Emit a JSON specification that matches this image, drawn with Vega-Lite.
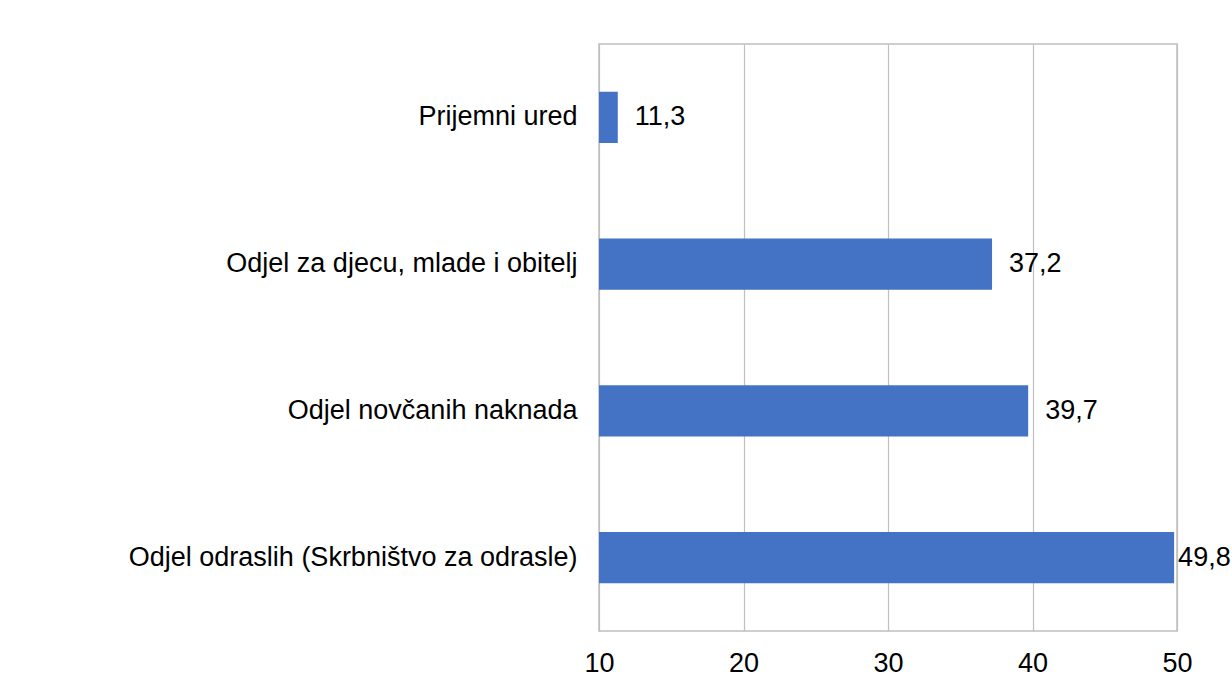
{
  "$schema": "https://vega.github.io/schema/vega-lite/v6.json",
  "width": 578,
  "height": 587,
  "autosize": "none",
  "padding": {"left": 599, "top": 44, "right": 55, "bottom": 69},
  "background": "white",
  "config": {
    "view": {"stroke": "#BFBFBF", "strokeWidth": 1.5},
    "font": "Liberation Sans",
    "locale": {"number": {"decimal": ",", "thousands": ".", "grouping": [3], "currency": ["", " €"]}}
  },
  "data": {
    "values": [
      {"category": "Prijemni ured", "value": 11.3},
      {"category": "Odjel za djecu, mlade i obitelj", "value": 37.2},
      {"category": "Odjel novčanih naknada", "value": 39.7},
      {"category": "Odjel odraslih (Skrbništvo za odrasle)", "value": 49.8}
    ]
  },
  "encoding": {
    "y": {
      "field": "category",
      "type": "nominal",
      "sort": null,
      "scale": {"paddingInner": 0.65, "paddingOuter": 0.325},
      "axis": {
        "title": null,
        "domain": false,
        "ticks": false,
        "labelFontSize": 27,
        "labelColor": "#000000",
        "labelPadding": 22,
        "labelLimit": 0
      }
    }
  },
  "layer": [
    {
      "mark": {"type": "bar", "color": "#4472C4"},
      "encoding": {
        "x": {
          "field": "value",
          "type": "quantitative",
          "scale": {"domain": [10, 50], "zero": false, "nice": false},
          "axis": {
            "title": null,
            "values": [10, 20, 30, 40, 50],
            "grid": true,
            "gridColor": "#BFBFBF",
            "gridWidth": 1.2,
            "domain": false,
            "ticks": false,
            "labelFontSize": 27,
            "labelColor": "#000000",
            "labelPadding": 19,
            "labelFlush": false,
            "format": "d"
          }
        },
        "x2": {"datum": 10}
      }
    },
    {
      "transform": [{"filter": "datum.value < 45"}],
      "mark": {"type": "text", "align": "left", "baseline": "middle", "dx": 17, "fontSize": 27, "color": "#000000"},
      "encoding": {
        "x": {"field": "value", "type": "quantitative"},
        "text": {"field": "value", "type": "quantitative", "format": ".1f"}
      }
    },
    {
      "transform": [{"filter": "datum.value >= 45"}],
      "mark": {"type": "text", "align": "left", "baseline": "middle", "dx": 4, "fontSize": 27, "color": "#000000"},
      "encoding": {
        "x": {"field": "value", "type": "quantitative"},
        "text": {"field": "value", "type": "quantitative", "format": ".1f"}
      }
    }
  ]
}
